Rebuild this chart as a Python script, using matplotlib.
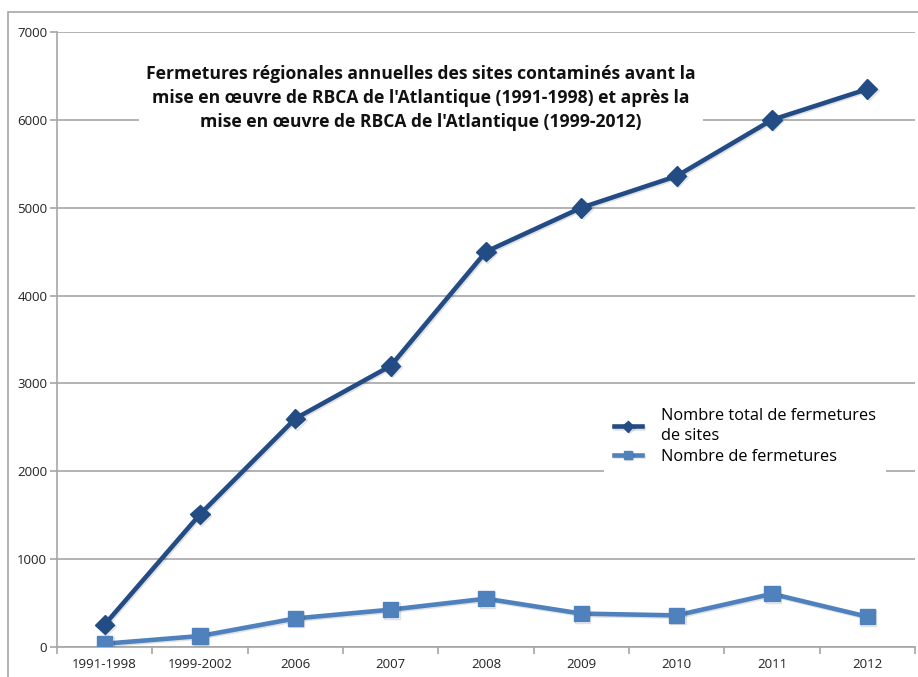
import matplotlib.pyplot as plt
import matplotlib.patheffects as pe
from matplotlib.patches import Rectangle

plt.rcParams['font.family'] = ['Open Sans', 'DejaVu Sans']

periodes = ['1991-1998', '1999-2002', '2006', '2007', '2008', '2009', '2010', '2011', '2012']
total_fermetures = [255, 1510, 2600, 3200, 4500, 5000, 5360, 6000, 6350]
nb_fermetures = [37, 125, 325, 425, 550, 380, 360, 605, 345]
yticks = [0, 1000, 2000, 3000, 4000, 5000, 6000, 7000]

dark = '#234C85'
light = '#4F81BD'
grid_c = '#A6A6A6'

fig = plt.figure(figsize=(9.18, 6.77), dpi=100)
fig.patches.append(Rectangle((8 / 918, -0.05), 1.2, 0.05 + (677 - 12) / 677,
                             transform=fig.transFigure, fill=False,
                             edgecolor='#A6A6A6', linewidth=1.2))
ax = fig.add_axes([57 / 918, 1 - 647 / 677, (915 - 57) / 918, (647 - 32) / 677])

x = list(range(len(periodes)))
shadow = [pe.SimpleLineShadow(offset=(1, -1), alpha=0.12), pe.Normal()]
ax.plot(x, total_fermetures, color=dark, lw=3.3, marker='D', ms=10,
        label='Nombre total de fermetures\nde sites', path_effects=shadow, zorder=4)
ax.plot(x, nb_fermetures, color=light, lw=3.3, marker='s', ms=11,
        label='Nombre de fermetures', path_effects=shadow, zorder=4)

ax.set_xlim(-0.5, len(periodes) - 0.5)
ax.set_ylim(0, 7000)
ax.set_yticks(yticks)
ax.set_yticklabels([str(v) for v in yticks])
ax.set_xticks(x)
ax.set_xticklabels(periodes)
ax.set_xticks([i - 0.5 for i in range(len(periodes) + 1)], minor=True)
ax.tick_params(axis='x', which='major', length=0, pad=8, labelsize=9.5)
ax.tick_params(axis='x', which='minor', length=5, color=grid_c, width=1.2)
ax.tick_params(axis='y', length=5, color=grid_c, width=1.2, labelsize=9.5, pad=2)
for t in ax.get_xticklabels() + ax.get_yticklabels():
    t.set_color('#222222')

for s in ['top', 'right']:
    ax.spines[s].set_visible(False)
for s in ['left', 'bottom']:
    ax.spines[s].set_color(grid_c)
    ax.spines[s].set_linewidth(1.2)
ax.yaxis.grid(True, color=grid_c, lw=1.2)
ax.set_axisbelow(True)

ax.text(0.424, 0.893,
        "Fermetures régionales annuelles des sites contaminés avant la\n"
        "mise en œuvre de RBCA de l'Atlantique (1991-1998) et après la\n"
        "mise en œuvre de RBCA de l'Atlantique (1999-2012)",
        transform=ax.transAxes, ha='center', va='center', fontsize=12.6,
        fontweight='bold', linespacing=1.45, color='#111111', zorder=5,
        bbox=dict(facecolor='white', edgecolor='none', pad=5))

leg = ax.legend(loc='center left', bbox_to_anchor=(0.628, 0.343), frameon=True,
                fontsize=11.8, handlelength=1.7, labelspacing=0.25, markerscale=0.55,
                borderpad=0.6, handletextpad=1.2)
leg.get_texts()[0].set_linespacing(1.4)
leg.get_frame().set_edgecolor('none')
leg.get_frame().set_facecolor('white')
leg.get_frame().set_alpha(1)
leg.set_zorder(5)

fig.savefig('out.png', dpi=100)
